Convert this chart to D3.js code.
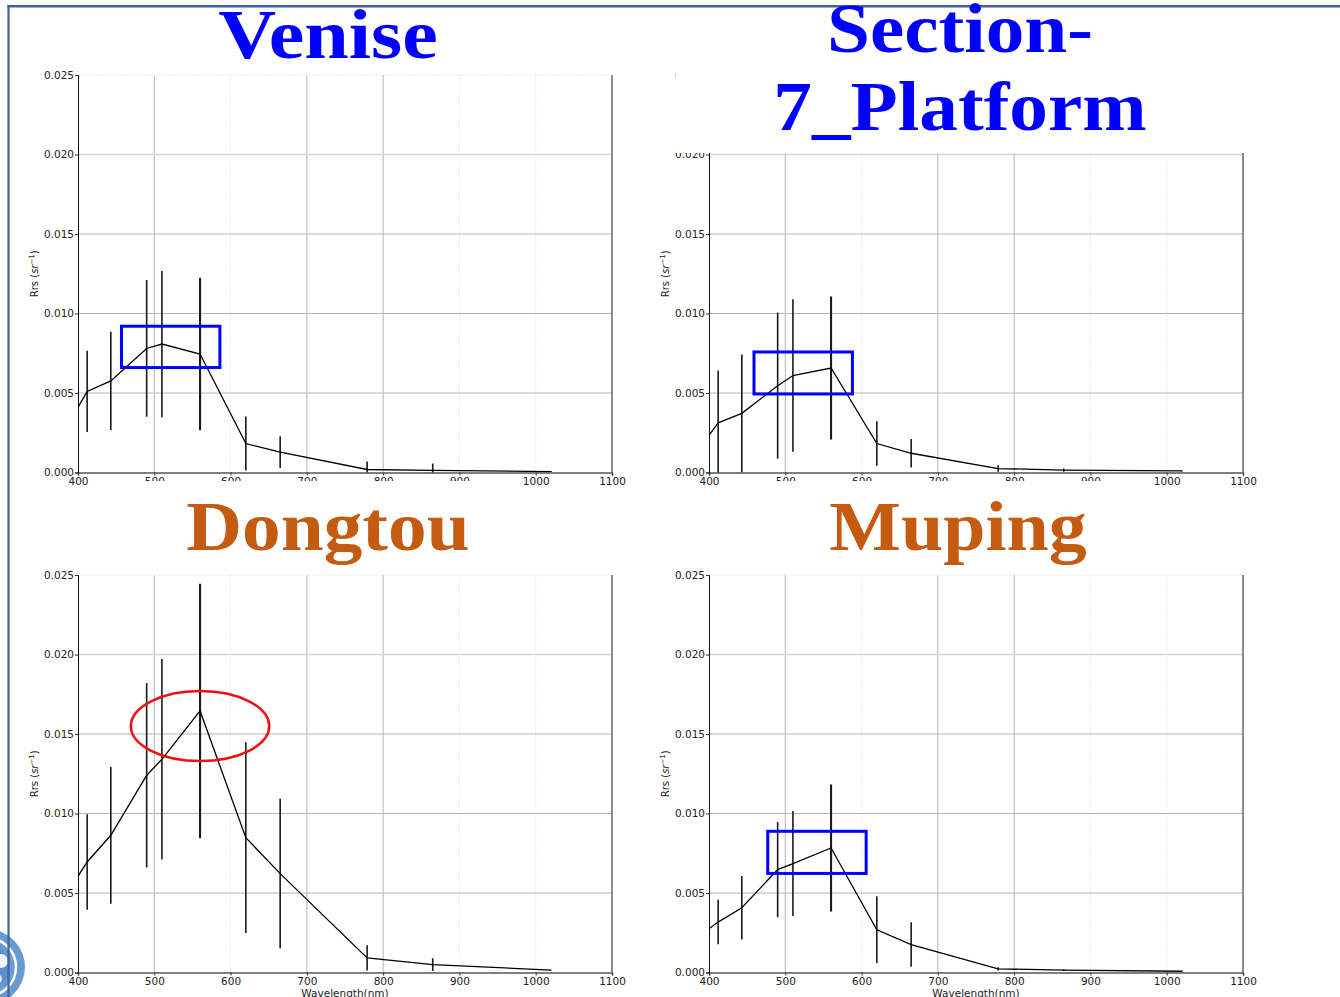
<!DOCTYPE html>
<html>
<head>
<meta charset="utf-8">
<script src="https://cdn.jsdelivr.net/npm/d3@7/dist/d3.min.js"></script>
<style>
  body { margin: 0; background: #fff; }
  svg { display: block; }
  .tick text { font-family: "DejaVu Sans", sans-serif; font-size: 10.5px; fill: #222; }
</style>
</head>
<body>
<svg id="slide"></svg>
<script>
// band centres (nm) shared by all four stations
const wavelengths = [400, 412, 443, 490, 510, 560, 620, 665, 779, 865, 1020];

// mean Rrs and its spread
const veniseRrs   = [0.0041, 0.0051, 0.00576, 0.0078, 0.00808, 0.00745, 0.00182, 0.00128, 0.00019, 0.00013, 0.00006];
const veniseSd    = [0, 0.00256, 0.0031, 0.0043, 0.0046, 0.0048, 0.0017, 0.001, 0.0005, 0.00044, 0.00003];
const section7Rrs = [0.00234, 0.00312, 0.00372, 0.00546, 0.0061, 0.00657, 0.00182, 0.00121, 0.00025, 0.00015, 0.0001];
const section7Sd  = [0, 0.0033, 0.0037, 0.0046, 0.0048, 0.0045, 0.0014, 0.0009, 0.0002, 0.0001, 0.00003];
const dongtouRrs  = [0.00605, 0.00695, 0.00863, 0.0124, 0.01341, 0.01645, 0.00848, 0.00622, 0.00092, 0.0005, 0.00015];
const dongtouSd   = [0, 0.003, 0.0043, 0.0058, 0.0063, 0.008, 0.006, 0.0047, 0.0008, 0.0004, 0.00003];
const mupingRrs   = [0.00275, 0.00317, 0.00407, 0.00647, 0.00685, 0.00783, 0.00269, 0.00176, 0.00023, 0.00015, 0.00008];
const mupingSd    = [0, 0.0014, 0.002, 0.003, 0.0033, 0.004, 0.0021, 0.0014, 0.0001, 0.00005, 0.00003];

const xTicks = [400, 500, 600, 700, 800, 900, 1000, 1100];
const yTicks = [0, 0.005, 0.010, 0.015, 0.020, 0.025];

// highlight marks drawn on top, in data units
const veniseBox   = {x: [457, 586], y: [0.0066, 0.0092]};
const section7Box = {x: [459, 588], y: [0.00494, 0.00758]};
const mupingBox   = {x: [477, 606], y: [0.00623, 0.00888]};
const dongtouRing = {cx: 560, cy: 0.0155, rx: 90.7, ry: 0.0022};

const W = 1340, H = 997;
const svg = d3.select('#slide').attr('width', W).attr('height', H);

// grid shades (matplotlib output after downscaling looks uneven)
const darkX = new Set([500, 700, 800]);
const darkY = new Set([0.005, 0.010, 0.015]);

const panels = [
  {name: 'venise', left: 78,  top: 75,  rrs: veniseRrs,   sd: veniseSd,   box: veniseBox,   xlab: false},
  {name: 'sec7',   left: 709, top: 75,  rrs: section7Rrs, sd: section7Sd, box: section7Box, xlab: false},
  {name: 'dong',   left: 78,  top: 575, rrs: dongtouRrs,  sd: dongtouSd,  ring: dongtouRing, xlab: true},
  {name: 'mup',    left: 709, top: 575, rrs: mupingRrs,   sd: mupingSd,   box: mupingBox,   xlab: true}
];
const pw = 534, ph = 397.5;

function drawPanel(p) {
  let g = svg.append('g').attr('transform', `translate(${p.left},${p.top})`);
  let x = d3.scaleLinear().domain([400, 1100]).range([0, pw]);
  let y = d3.scaleLinear().domain([0, 0.025]).range([ph, 0]);

  g.append('defs').append('clipPath').attr('id', 'clip-' + p.name)
    .append('rect').attr('width', pw).attr('height', ph);

  // grid
  g.append('g').selectAll('line')
    .data(xTicks.filter(t => t > 400 && t < 1100))
    .join('line')
    .attr('x1', d => x(d)).attr('x2', d => x(d))
    .attr('y1', 0).attr('y2', ph)
    .attr('stroke', d => darkX.has(d) ? '#b4b4b4' : '#ececec')
    .attr('stroke-width', 1)
    .attr('stroke-dasharray', d => darkX.has(d) ? null : '2,1');
  g.append('g').selectAll('line')
    .data(yTicks.filter(t => t > 0))
    .join('line')
    .attr('x1', 0).attr('x2', pw)
    .attr('y1', d => y(d)).attr('y2', d => y(d))
    .attr('stroke', d => darkY.has(d) ? '#b4b4b4' : (d === 0.020 ? '#d6d6d6' : '#ececec'))
    .attr('stroke-width', d => d === 0.020 ? 1.5 : 1)
    .attr('stroke-dasharray', d => d === 0.025 ? '2,1' : null);

  // axes
  g.append('g').attr('transform', `translate(0,${ph})`)
    .call(d3.axisBottom(x).tickValues(xTicks).tickSize(3).tickPadding(2).tickFormat(d3.format('d')))
    .call(a => a.select('.domain').attr('stroke', '#555').attr('stroke-width', 1.5))
    .call(a => a.selectAll('.tick line').attr('stroke', '#333'));
  g.append('g')
    .call(d3.axisLeft(y).tickValues(yTicks).tickSize(3).tickPadding(1).tickFormat(d3.format('.3f')))
    .call(a => a.select('.domain').attr('stroke', '#111').attr('stroke-width', 1))
    .call(a => a.selectAll('.tick line').attr('stroke', '#333'));
  g.append('line').attr('x1', pw).attr('x2', pw).attr('y1', 0).attr('y2', ph)
    .attr('stroke', '#666').attr('stroke-width', 1.5);

  // y label
  let yl = g.append('text')
    .attr('transform', `translate(${-40},${ph / 2}) rotate(-90)`)
    .attr('text-anchor', 'middle')
    .style('font-family', '"DejaVu Sans", sans-serif').style('font-size', '10px').attr('fill', '#222');
  yl.append('tspan').text('Rrs (');
  yl.append('tspan').style('font-style', 'italic').text('sr');
  yl.append('tspan').attr('dy', -4).style('font-size', '7px').text('−1');
  yl.append('tspan').attr('dy', 4).text(')');

  if (p.xlab) {
    g.append('text').attr('x', pw / 2).attr('y', ph + 24)
      .attr('text-anchor', 'middle')
      .style('font-family', '"DejaVu Sans", sans-serif').style('font-size', '10.5px').attr('fill', '#222')
      .text('Wavelength(nm)');
  }

  let pts = wavelengths.map((w, i) => ({w: w, v: p.rrs[i], s: p.sd[i]}));
  let plot = g.append('g').attr('clip-path', `url(#clip-${p.name})`);

  plot.selectAll('line.err')
    .data(pts.filter(d => d.s > 0))
    .join('line').attr('class', 'err')
    .attr('x1', d => x(d.w)).attr('x2', d => x(d.w))
    .attr('y1', d => y(d.v - d.s)).attr('y2', d => y(d.v + d.s))
    .attr('stroke', '#1a1a1a')
    .attr('stroke-width', d => d.w === 560 ? 2.1 : 1.6);

  plot.append('path').datum(pts)
    .attr('d', d3.line().x(d => x(d.w)).y(d => y(d.v)))
    .attr('fill', 'none').attr('stroke', '#000').attr('stroke-width', 1.3);

  if (p.box) {
    g.append('rect')
      .attr('x', x(p.box.x[0])).attr('y', y(p.box.y[1]))
      .attr('width', x(p.box.x[1]) - x(p.box.x[0]))
      .attr('height', y(p.box.y[0]) - y(p.box.y[1]))
      .attr('fill', 'none').attr('stroke', '#0000ff').attr('stroke-width', 3);
  }
  if (p.ring) {
    g.append('ellipse')
      .attr('cx', x(p.ring.cx)).attr('cy', y(p.ring.cy))
      .attr('rx', x(400 + p.ring.rx) - x(400))
      .attr('ry', y(0) - y(p.ring.ry))
      .attr('fill', 'none').attr('stroke', '#ee1111').attr('stroke-width', 2.5);
  }
}

panels.forEach(drawPanel);

// slide chrome: border lines and the emblem peeking in at bottom-left
let logo = svg.append('g').attr('transform', 'translate(-13,967)');
logo.append('circle').attr('r', 38).attr('fill', '#6a9ad4');
logo.append('circle').attr('r', 29).attr('fill', 'none').attr('stroke', '#fff').attr('stroke-width', 2.5);
logo.append('circle').attr('r', 22).attr('fill', '#5b8fcc');
logo.append('circle').attr('cx', 14).attr('cy', -6).attr('r', 7).attr('fill', '#fff').attr('opacity', 0.9);
logo.append('circle').attr('cx', 10).attr('cy', 12).attr('r', 5).attr('fill', '#fff').attr('opacity', 0.8);

svg.append('line').attr('x1', 8.5).attr('x2', 8.5).attr('y1', 5).attr('y2', H)
  .attr('stroke', '#41639e').attr('stroke-width', 2.2);
svg.append('line').attr('x1', 7.5).attr('x2', W).attr('y1', 6.2).attr('y2', 6.2)
  .attr('stroke', '#41639e').attr('stroke-width', 2.5);

// titles, each over a white patch as on the slide
svg.append('rect').attr('x', 676).attr('y', 8).attr('width', 620).attr('height', 145).attr('fill', '#fff');
svg.append('rect').attr('x', 95).attr('y', 481).attr('width', 425).attr('height', 85).attr('fill', '#fff');
svg.append('rect').attr('x', 725).attr('y', 481).attr('width', 425).attr('height', 85).attr('fill', '#fff');

const titleText = ['Venise', 'Section-', '7_Platform', 'Dongtou', 'Muping'];
const titleAt = [[328, 58], [960, 52], [960, 130], [328, 550], [958, 550]];
const titleColor = ['#0000ff', '#0000ff', '#0000ff', '#c55a11', '#c55a11'];
const titleStretch = [1.16, 1.12, 1.12, 1.12, 1.1];

svg.append('g').selectAll('text')
  .data(titleText)
  .join('text')
  .attr('transform', (d, i) => `translate(${titleAt[i][0]},${titleAt[i][1]}) scale(${titleStretch[i]},1)`)
  .attr('text-anchor', 'middle')
  .style('font-family', '"Liberation Serif", "Times New Roman", serif')
  .style('font-weight', 'bold')
  .style('font-size', '69px')
  .attr('fill', (d, i) => titleColor[i])
  .text(d => d);
</script>
</body>
</html>
